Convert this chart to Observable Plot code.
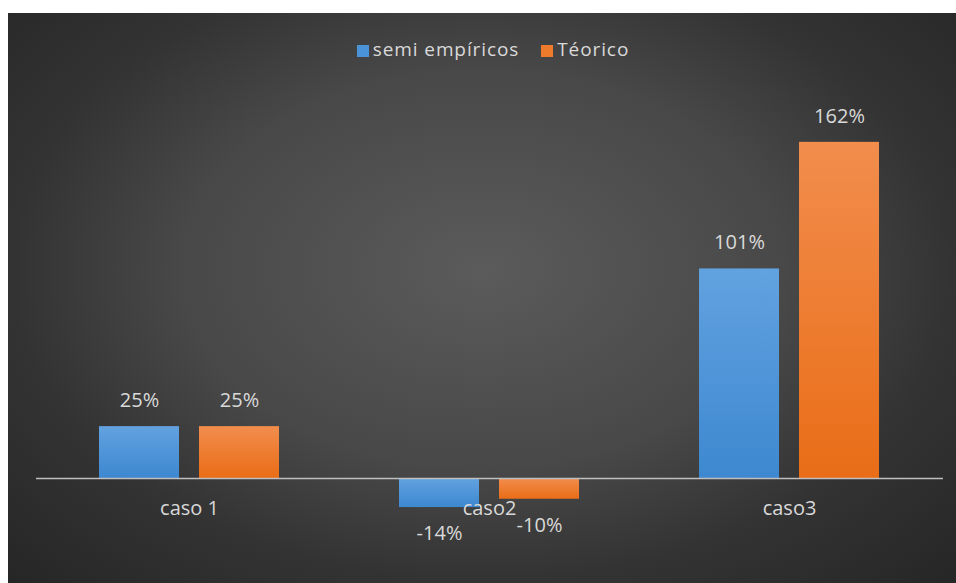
<!DOCTYPE html>
<html>
<head>
<meta charset="utf-8">
<script src="https://cdn.jsdelivr.net/npm/d3@7"></script>
<script src="https://cdn.jsdelivr.net/npm/@observablehq/plot@0.6"></script>
<style>
  html, body { margin: 0; padding: 0; background: #ffffff; }
  #page { position: relative; width: 956px; height: 583px; background: #ffffff; overflow: hidden; }
  #panel {
    position: absolute; left: 8px; top: 13px; width: 948px; height: 570px;
    background: radial-gradient(ellipse farthest-corner at 50% 45%, #5b5b5b 0%, #484848 45%, #333333 70%, #262626 100%);
  }
  #legend {
    height: 64px; box-sizing: border-box; padding-top: 23px; padding-left: 22px;
    display: flex; justify-content: center; align-items: flex-start; gap: 22px;
    font-family: "Open Sans", sans-serif; font-size: 19px; color: #d9d9d9; letter-spacing: 0.9px;
  }
  #legend .item { display: flex; align-items: center; line-height: 26px; }
  #legend .sw { width: 12px; height: 12px; margin-right: 4px; margin-top: 3px; }
  #chart svg { display: block; background: transparent; }
</style>
</head>
<body>
<div id="page">
  <div id="panel">
    <div id="legend"></div>
    <div id="chart"></div>
  </div>
</div>
<script>
// ---- data ----
const categories = ["caso 1", "caso2", "caso3"];
const seriesNames = ["semi empíricos", "Téorico"];
const semiEmpiricos = [25, -14, 101];
const teorico = [25, -10, 162];
const seriesColors = ["#4a93d9", "#ee7a2b"];

const seriesValues = [semiEmpiricos, teorico];
const rows = [];
seriesNames.forEach((s, si) => {
  categories.forEach((c, ci) => rows.push({caso: c, serie: s, v: seriesValues[si][ci]}));
});

// legend
const legend = document.getElementById("legend");
seriesNames.forEach((s, i) => {
  const it = document.createElement("div");
  it.className = "item";
  it.innerHTML = `<span class="sw" style="background:${seriesColors[i]}"></span><span>${s}</span>`;
  legend.appendChild(it);
});

const W = 948, H = 506;
const txt = "#d9d9d9";
const font = {fontFamily: "Open Sans, sans-serif"};
const fs = 20;

// offsets of each series inside its 300px category band
const insets = [
  {insetLeft: 60, insetRight: 160, dx: -50},
  {insetLeft: 160, insetRight: 60, dx: 50}
];

const marks = [];
seriesNames.forEach((s, i) => {
  const sel = d => d.serie === s;
  marks.push(Plot.barY(rows, {
    filter: sel, x: "caso", y1: 0, y2: "v",
    fill: `url(#grad${i})`,
    insetLeft: insets[i].insetLeft, insetRight: insets[i].insetRight
  }));
  marks.push(Plot.text(rows, {
    filter: d => sel(d) && d.v >= 0, x: "caso", y: "v", text: d => `${d.v}%`,
    dx: insets[i].dx, dy: -26, fill: txt, fontSize: fs, ...font
  }));
  marks.push(Plot.text(rows, {
    filter: d => sel(d) && d.v < 0, x: "caso", y: "v", text: d => `${d.v}%`,
    dx: insets[i].dx, dy: 26, fill: txt, fontSize: fs, ...font
  }));
});
marks.push(Plot.ruleY([0], {stroke: "#bfbfbf", strokeWidth: 1.5}));
marks.push(Plot.text(categories, {
  x: d => d, y: () => 0, text: d => d, dy: 30, fill: txt, fontSize: fs, ...font
}));

const chart = Plot.plot({
  width: W,
  height: H,
  marginTop: 0, marginBottom: 0, marginLeft: 28, marginRight: 13,
  style: {background: "transparent", overflow: "visible"},
  x: {type: "band", domain: categories, range: [30, 931], padding: 0, axis: null},
  y: {domain: [-50.6, 193.25], axis: null},
  marks
});

// gradient definitions for bar fills
const svg = d3.select(chart);
const defs = svg.insert("defs", ":first-child");
const grads = [["#62a2e0", "#3d88d0"], ["#f28d4d", "#e96d17"]];
grads.forEach((g, i) => {
  const lg = defs.append("linearGradient").attr("id", `grad${i}`)
    .attr("x1", 0).attr("y1", 0).attr("x2", 0).attr("y2", 1);
  lg.append("stop").attr("offset", "0%").attr("stop-color", g[0]);
  lg.append("stop").attr("offset", "100%").attr("stop-color", g[1]);
});

document.getElementById("chart").appendChild(chart);
</script>
</body>
</html>
